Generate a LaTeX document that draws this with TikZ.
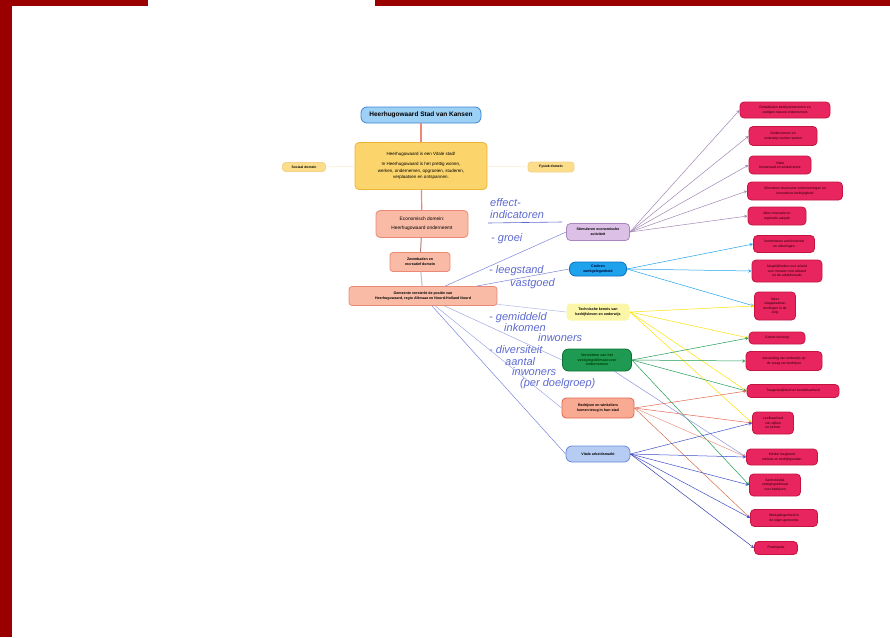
\documentclass[tikz,border=0pt]{standalone}
\usepackage{fontspec}
\setmainfont{Liberation Sans}
\usetikzlibrary{shapes.geometric, arrows}

\definecolor{framered}{HTML}{9B0000}
\definecolor{titlefill}{HTML}{9DD0F5}
\definecolor{titleline}{HTML}{3C86D8}
\definecolor{visionfill}{HTML}{FBD46C}
\definecolor{visionline}{HTML}{EDB43A}
\definecolor{salmonfill}{HTML}{F9BBA6}
\definecolor{salmonline}{HTML}{EA8A76}
\definecolor{goalfill}{HTML}{E8255E}
\definecolor{goalline}{HTML}{C4143F}
\definecolor{ink}{HTML}{3F4FC8}
\definecolor{stimfill}{HTML}{DCC0E6}
\definecolor{stimline}{HTML}{A986C0}
\definecolor{werkfill}{HTML}{1EA2EC}
\definecolor{werkline}{HTML}{0B6FC2}
\definecolor{kennisfill}{HTML}{FCF6A8}
\definecolor{klimaatfill}{HTML}{1E9A52}
\definecolor{klimaatline}{HTML}{0E7038}
\definecolor{winkelfill}{HTML}{F9AA92}
\definecolor{winkelline}{HTML}{E26650}
\definecolor{arbeidfill}{HTML}{B6CCF2}
\definecolor{arbeidline}{HTML}{6A88D6}

\tikzstyle{box} = [rectangle, rounded corners=4pt, align=center, text centered, inner sep=1.5pt, line width=0.8pt]
\tikzstyle{titlebox} = [box, draw=titleline, fill=titlefill, minimum width=120pt, minimum height=16pt, rounded corners=6pt, font=\fontsize{6.5}{7}\selectfont\bfseries]
\tikzstyle{visionbox} = [box, draw=visionline, fill=visionfill, minimum width=132pt, minimum height=47pt, font=\fontsize{4.5}{6.5}\selectfont]
\tikzstyle{domainbox} = [box, draw=visionline!60, fill=visionfill!80, rounded corners=3pt, font=\fontsize{3.4}{4}\selectfont\bfseries]
\tikzstyle{salmonbox} = [box, draw=salmonline, fill=salmonfill, font=\fontsize{4}{5.5}\selectfont]
\tikzstyle{midbox} = [box, rounded corners=4pt, font=\fontsize{3.6}{4.6}\selectfont\bfseries]
\tikzstyle{goalbox} = [box, draw=goalline, fill=goalfill, text=black!85!red, rounded corners=4pt, font=\fontsize{3.4}{4.4}\selectfont]
\tikzstyle{hand} = [text=ink!85, anchor=west, inner sep=0pt, font=\fontsize{11}{11}\selectfont\itshape]
\tikzstyle{link} = [line width=0.5pt]
\tikzstyle{arrow} = [link, ->, >=stealth]

\begin{document}
\begin{tikzpicture}[x=1pt, y=-1pt]

  \useasboundingbox (0,0) rectangle (890,637);
  \fill [framered] (0,0) rectangle (12,637);
  \fill [framered] (0,0) rectangle (148,6);
  \fill [framered] (375,0) rectangle (890,6);

  \node (title) [titlebox] at (421,115) {Heerhugowaard Stad van Kansen};
  \node (vision) [visionbox] at (421,166) {Heerhugowaard is een Vitale stad!\\[4pt] In Heerhugowaard is het prettig wonen,\\ werken, ondernemen, opgroeien, studeren,\\ verplaatsen en ontspannen.};
  \node (sociaal) [domainbox, minimum width=43pt, minimum height=9pt] at (304,167) {Sociaal domein};
  \node (fysiek) [domainbox, minimum width=46pt, minimum height=10pt] at (551,167) {Fysiek domein};
  \node (econ) [salmonbox, minimum width=92pt, minimum height=27pt, font=\fontsize{4.8}{6.5}\selectfont] at (422,224) {Economisch domein:\\[2pt] Heerhugowaard onderneemt};
  \node (recreatie) [salmonbox, minimum width=60pt, minimum height=19pt, rounded corners=3pt, font=\fontsize{3.6}{4.8}\selectfont\bfseries] at (420,262) {Zwembaden en\\ recreatief domein};
  \node (positie) [salmonbox, minimum width=148pt, minimum height=19pt, rounded corners=3pt, font=\fontsize{3.6}{4.8}\selectfont\bfseries] at (423,296) {Gemeente versterkt de positie van\\ Heerhugowaard, regio Alkmaar en Noord-Holland Noord};

  \node (stim) [midbox, draw=stimline, fill=stimfill, minimum width=63pt, minimum height=17pt] at (598,232) {Stimuleren economische\\ activiteit};
  \node (werk) [midbox, draw=werkline, fill=werkfill, text=black!80!blue, minimum width=57pt, minimum height=14pt, rounded corners=6pt] at (598,269) {Creëren\\ werkgelegenheid};
  \node (kennis) [midbox, fill=kennisfill, minimum width=63pt, minimum height=17pt] at (598,312) {Technische kennis van\\ bedrijfsleven en onderwijs};
  \node (klimaat) [midbox, draw=klimaatline, fill=klimaatfill, text=black!75!green, minimum width=69pt, minimum height=22pt, rounded corners=6pt] at (597,360) {Versterken van het\\ vestigingsklimaat voor\\ ondernemers};
  \node (winkel) [midbox, draw=winkelline, fill=winkelfill, minimum width=72pt, minimum height=20pt] at (598,408) {Bedrijven en winkeliers\\ komen terug in hun stad};
  \node (arbeid) [midbox, draw=arbeidline, fill=arbeidfill, minimum width=64pt, minimum height=16pt, rounded corners=6pt] at (598,454) {Vitale arbeidsmarkt};

  \node (res1) [goalbox, minimum width=90pt, minimum height=16pt] at (785,110) {Ontwikkelen bedrijventerreinen en\\ vestigen nieuwe ondernemers};
  \node (res2) [goalbox, minimum width=68pt, minimum height=19pt] at (783,136) {Ondernemers en\\ onderwijs werken samen};
  \node (res3) [goalbox, minimum width=62pt, minimum height=18pt] at (780,165) {Vitale\\ binnenstad en winkelcentra};
  \node (res4) [goalbox, minimum width=95pt, minimum height=18pt] at (795,191) {Stimuleren duurzame ondernemingen en\\ innovatieve bedrijvigheid};
  \node (res5) [goalbox, minimum width=58pt, minimum height=18pt] at (777,216) {Meer innovatie en\\ regionale aanpak};
  \node (res6) [goalbox, minimum width=61pt, minimum height=17pt] at (784,244) {Verminderen werkloosheid\\ en uitkeringen};
  \node (res7) [goalbox, minimum width=70pt, minimum height=22pt] at (787,271) {Mogelijkheden voor arbeid\\ voor mensen met afstand\\ tot de arbeidsmarkt};
  \node (res8) [goalbox, minimum width=41pt, minimum height=28pt] at (775,306) {Meer\\ stageplaatsen\\ leerlingen in de\\ zorg};
  \node (res9) [goalbox, minimum width=56pt, minimum height=12pt] at (777,338) {Goede scholing};
  \node (res10) [goalbox, minimum width=76pt, minimum height=19pt] at (784,361) {Aansluiting van onderwijs op\\ de vraag van bedrijven};
  \node (res11) [goalbox, minimum width=92pt, minimum height=13pt] at (793,391) {Toegankelijkheid en bereikbaarheid};
  \node (res12) [goalbox, minimum width=41pt, minimum height=22pt] at (773,423) {Leefbaarheid\\ van wijken\\ en kernen};
  \node (res13) [goalbox, minimum width=71pt, minimum height=16pt] at (782,457) {Minder leegstand\\ winkels en bedrijfspanden};
  \node (res14) [goalbox, minimum width=51pt, minimum height=22pt] at (775,485) {Aantrekkelijk\\ vestigingsklimaat\\ voor bedrijven};
  \node (res15) [goalbox, minimum width=67pt, minimum height=17pt] at (784,518) {Werkgelegenheid in\\ de eigen gemeente};
  \node (res16) [goalbox, minimum width=43pt, minimum height=13pt] at (776,548) {Participatie};

  \node (eff) [hand] at (490,203) {effect-};
  \node (ind) [hand] at (490,215) {indicatoren};
  \draw [ink!85, line width=0.6pt] (488,223) -- (562,222);
  \node (groei) [hand] at (491,239) {- groei};
  \node (leeg) [hand] at (489,271) {- leegstand};
  \node (vast) [hand] at (510,284) {vastgoed};
  \node (gem) [hand] at (489,318) {- gemiddeld};
  \node (ink) [hand] at (504,328) {inkomen};
  \node (inw) [hand] at (538,338) {inwoners};
  \node (div) [hand] at (489,350) {- diversiteit};
  \node (aant) [hand] at (505,362) {aantal};
  \node (inw2) [hand] at (512,372) {inwoners};
  \node (dg) [hand] at (520,384) {(per doelgroep)};

  \draw [link, salmonline, line width=1.2pt] (title) -- (vision);
  \draw [link, salmonline, line width=1.2pt] (vision) -- (econ);
  \draw [link, gray!60!salmonline, line width=1pt] (econ) -- (recreatie);
  \draw [link, gray!50, line width=1pt] (recreatie) -- (positie);
  \draw [link, visionline!30] (vision) -- (sociaal);
  \draw [link, visionline!30] (vision) -- (fysiek);

  \draw [link, ink!70] (positie) -- (stim.west);
  \draw [link, ink!70] (positie) -- (werk.west);
  \draw [link, ink!40] (positie) -- (kennis.west);
  \draw [link, ink!50] (positie) -- (klimaat.west);
  \draw [link, ink!50] (positie) -- (winkel.west);
  \draw [link, ink!70] (positie) -- (arbeid.west);

  \draw [arrow, stimline!80!gray] (stim.east) -- (res1.west);
  \draw [arrow, stimline!80!gray] (stim.east) -- (res2.west);
  \draw [arrow, stimline!80!gray] (stim.east) -- (res3.west);
  \draw [arrow, stimline!80!gray] (stim.east) -- (res4.west);
  \draw [arrow, stimline!80!gray] (stim.east) -- (res5.west);

  \draw [arrow, werkfill] (werk.east) -- (res6.west);
  \draw [arrow, werkfill] (werk.east) -- (res7.west);
  \draw [arrow, werkfill] (werk.east) -- (res8.west);

  \draw [arrow, yellow!85!orange] (kennis.east) -- (res8.west);
  \draw [arrow, yellow!85!orange] (kennis.east) -- (res9.west);
  \draw [arrow, yellow!85!orange] (kennis.east) -- (res11.west);
  \draw [arrow, yellow!85!orange] (kennis.east) -- (res12.west);

  \draw [arrow, klimaatfill] (klimaat.east) -- (res9.west);
  \draw [arrow, klimaatfill] (klimaat.east) -- (res10.west);
  \draw [arrow, klimaatfill] (klimaat.east) -- (res11.west);
  \draw [arrow, klimaatfill] (klimaat.east) -- (res14.west);
  \draw [arrow, ink!60] (klimaat) -- (res13.west);

  \draw [arrow, winkelline] (winkel.east) -- (res11.west);
  \draw [arrow, winkelline] (winkel.east) -- (res12.west);
  \draw [arrow, winkelline!70] (winkel.east) -- (res13.west);
  \draw [arrow, winkelline!60!brown] (winkel.east) -- (res15.west);

  \draw [arrow, ink] (arbeid.east) -- (res12.west);
  \draw [arrow, ink] (arbeid.east) -- (res13.west);
  \draw [arrow, ink] (arbeid.east) -- (res14.west);
  \draw [arrow, ink] (arbeid.east) -- (res15.west);
  \draw [arrow, ink!80!black] (arbeid.east) -- (res16.west);

\end{tikzpicture}
\end{document}
